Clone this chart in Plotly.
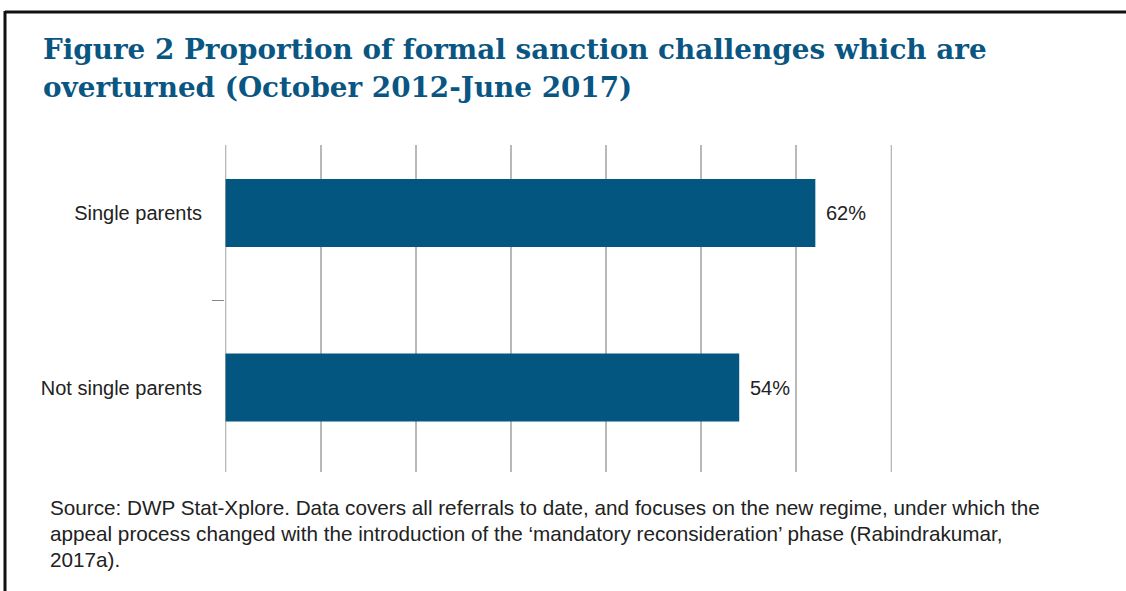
import plotly.graph_objects as go

categories = ["Not single parents", "Single parents"]
values = [54, 62]
value_labels = ["54%", "62%"]
x_ticks = [0, 10, 20, 30, 40, 50, 60, 70]

title_lines = ["Figure 2 Proportion of formal sanction challenges which are",
               "overturned (October 2012-June 2017)"]
source_lines = [
    "Source: DWP Stat-Xplore. Data covers all referrals to date, and focuses on the new regime, under which the",
    "appeal process changed with the introduction of the \u2018mandatory reconsideration\u2019 phase (Rabindrakumar,",
    "2017a).",
]

W, H = 1126, 591
L, R, T, B = 225, 892, 145, 472
BAR = "#02567f"
TXT = "#222222"
FONT = "Liberation Sans, Arial"
GRID = "#b8b8b8"

def px(x):
    return (x - L) / (R - L)

def py(y):
    return (B - y) / (B - T)

fig = go.Figure()
fig.add_trace(go.Bar(
    y=categories, x=values, orientation="h",
    marker=dict(color=BAR, line=dict(width=0)),
    width=0.39, hoverinfo="skip",
))

annotations = []
for c, v, t in zip(categories, values, value_labels):
    annotations.append(dict(x=v, y=c, xref="x", yref="y", text=t, showarrow=False,
                            xanchor="left", xshift=9,
                            font=dict(family=FONT, size=20, color=TXT)))

for i, line in enumerate(title_lines):
    annotations.append(dict(x=px(41), y=py(50 + i * 38), xref="paper", yref="paper",
                            text="<b>" + line + "</b>", showarrow=False,
                            xanchor="left", yanchor="middle",
                            font=dict(family="DejaVu Serif", size=27.8, color="#0a5683")))

for i, line in enumerate(source_lines):
    annotations.append(dict(x=px(48), y=py(507 + i * 26), xref="paper", yref="paper",
                            text=line, showarrow=False,
                            xanchor="left", yanchor="middle",
                            font=dict(family=FONT, size=20.7, color=TXT)))

shapes = [
    dict(type="line", xref="paper", yref="paper", x0=px(5), x1=px(W + 5), y0=py(12), y1=py(12),
         line=dict(color="#111111", width=3)),
    dict(type="line", xref="paper", yref="paper", x0=px(5), x1=px(5), y0=py(11), y1=py(H + 5),
         line=dict(color="#111111", width=3)),
]
for xv in (x_ticks[0], x_ticks[-1]):
    shapes.append(dict(type="line", xref="x", yref="paper", x0=xv, x1=xv, y0=0, y1=1,
                       layer="below", line=dict(color=GRID, width=1.5)))

fig.update_layout(
    width=W, height=H,
    margin=dict(l=L, r=W - R, t=T, b=H - B, pad=0),
    paper_bgcolor="white", plot_bgcolor="white",
    showlegend=False,
    annotations=annotations,
    shapes=shapes,
    xaxis=dict(range=[-0.06, 70.06], tickvals=x_ticks, showticklabels=False,
               showgrid=True, gridcolor=GRID, gridwidth=1.5,
               zeroline=False, showline=False, ticks=""),
    yaxis=dict(type="category", categoryorder="array", categoryarray=categories,
               range=[-0.484, 1.39], showgrid=False, zeroline=False, showline=False,
               ticks="outside", tickson="boundaries", ticklen=12, tickcolor="#888888",
               tickwidth=1, ticklabelstandoff=22,
               tickfont=dict(family=FONT, size=20, color=TXT)),
)

fig.write_html("out.html")
